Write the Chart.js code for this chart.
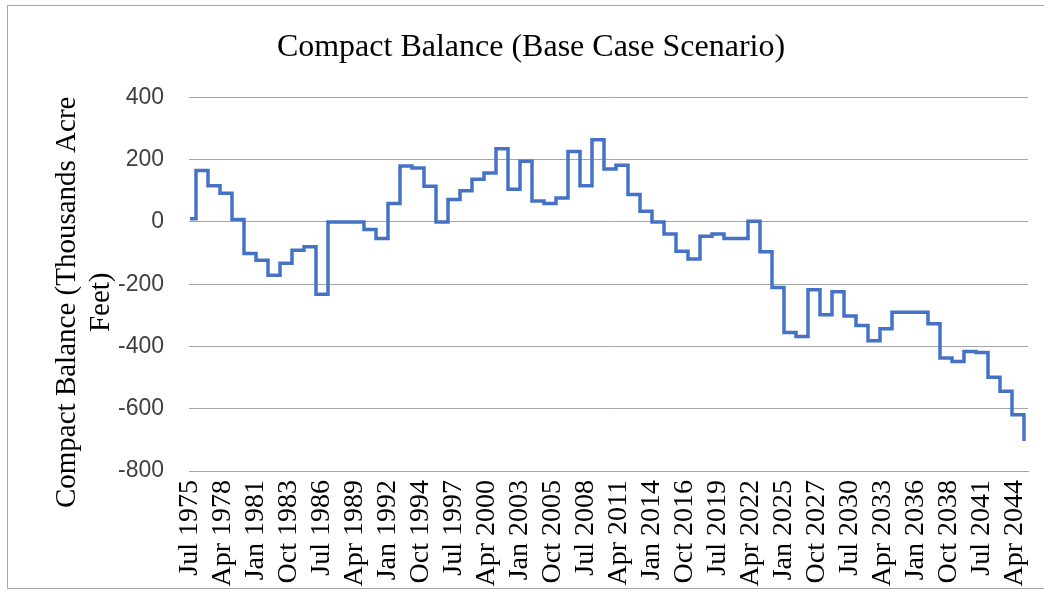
<!DOCTYPE html>
<html>
<head>
<meta charset="utf-8">
<script src="https://cdn.jsdelivr.net/npm/chart.js@4.4.1/dist/chart.umd.min.js"></script>
<style>
html, body { margin: 0; padding: 0; background: #fff; }
#wrap { width: 1044px; height: 591px; }
</style>
</head>
<body>
<div id="wrap"><canvas id="c" width="1044" height="591"></canvas></div>
<script>
// Calendar years (balance changes each January; series starts Jul 1975)
const years = [1975,1976,1977,1978,1979,1980,1981,1982,1983,1984,1985,1986,1987,1988,1989,
  1990,1991,1992,1993,1994,1995,1996,1997,1998,1999,2000,2001,2002,2003,2004,2005,2006,2007,
  2008,2009,2010,2011,2012,2013,2014,2015,2016,2017,2018,2019,2020,2021,2022,2023,2024,2025,
  2026,2027,2028,2029,2030,2031,2032,2033,2034,2035,2036,2037,2038,2039,2040,2041,2042,2043,
  2044,2045];

// Compact balance, thousands acre-feet
const balance = [10,165,116,92,8,-101,-123,-171,-133,-91,-80,-232,0,0,0,
  -24,-53,59,180,173,115,0,72,100,137,157,235,105,195,67,59,77,226,
  116,264,170,182,88,34,0,-39,-94,-119,-46,-39,-53,-53,2,-96,-211,-355,
  -368,-218,-298,-224,-302,-333,-382,-343,-290,-290,-290,-327,-437,-448,-416,-419,-499,-544,
  -619,-704];

const tickLabels = ['Jul 1975','Apr 1978','Jan 1981','Oct 1983','Jul 1986','Apr 1989','Jan 1992',
  'Oct 1994','Jul 1997','Apr 2000','Jan 2003','Oct 2005','Jul 2008','Apr 2011','Jan 2014',
  'Oct 2016','Jul 2019','Apr 2022','Jan 2025','Oct 2027','Jul 2030','Apr 2033','Jan 2036',
  'Oct 2038','Jul 2041','Apr 2044'];

const monthNames = ['Jan','Feb','Mar','Apr','May','Jun','Jul','Aug','Sep','Oct','Nov','Dec'];
const startYear = 1975, startMonth = 6; // Jul 1975

function monthIndex(year, month) { return (year - startYear) * 12 + month - startMonth; }

const points = years.map((y, i) => ({ x: Math.max(0, monthIndex(y, 0)), y: balance[i] }));
const tickPositions = tickLabels.map(l => {
  const parts = l.split(' ');
  return monthIndex(parseInt(parts[1], 10), monthNames.indexOf(parts[0]));
});

const framePlugin = {
  id: 'frame',
  beforeDraw(chart) {
    const ctx = chart.ctx;
    ctx.save();
    ctx.fillStyle = '#ffffff';
    ctx.fillRect(0, 0, chart.width, chart.height);
    ctx.strokeStyle = '#a6a6a6';
    ctx.lineWidth = 1;
    ctx.strokeRect(7.5, 5.5, 1100, 583);
    ctx.restore();
  }
};

new Chart(document.getElementById('c'), {
  type: 'line',
  data: {
    datasets: [{
      label: 'Compact Balance',
      data: points,
      borderColor: '#4472C4',
      borderWidth: 3.5,
      pointRadius: 0,
      pointHoverRadius: 0,
      stepped: true,
      fill: false,
      tension: 0
    }]
  },
  options: {
    responsive: false,
    animation: false,
    layout: { padding: { left: 34, right: 16, top: 0, bottom: 0 } },
    plugins: {
      legend: { display: false },
      tooltip: { enabled: false },
      title: {
        display: true,
        text: 'Compact Balance (Base Case Scenario)',
        color: '#000',
        font: { family: '"Liberation Serif", "Times New Roman", serif', size: 32, weight: 'normal', lineHeight: 1.2 },
        padding: { top: 28, bottom: 31 }
      }
    },
    scales: {
      x: {
        type: 'linear',
        min: -1,
        max: 838,
        grid: { display: false, drawTicks: false },
        border: { display: true, color: '#a6a6a6', width: 1 },
        afterBuildTicks: (s) => { s.ticks = tickPositions.map(v => ({ value: v })); },
        afterFit: (s) => { s.height = 120; s.paddingLeft = 0; s.paddingRight = 0; },
        ticks: {
          autoSkip: false,
          maxRotation: 90,
          minRotation: 90,
          padding: 9,
          color: '#000',
          font: { family: '"Liberation Serif", "Times New Roman", serif', size: 28 },
          callback: (v, i) => tickLabels[i]
        }
      },
      y: {
        min: -800,
        max: 400,
        grid: { color: '#a6a6a6', lineWidth: 1, drawTicks: false },
        border: { display: false },
        afterFit: (s) => { s.width = 155; s.paddingTop = 0; s.paddingBottom = 0; },
        ticks: {
          stepSize: 200,
          padding: 25,
          color: '#404040',
          font: { family: '"Liberation Sans", Arial, sans-serif', size: 23 }
        },
        title: {
          display: true,
          text: ['Compact Balance (Thousands Acre     ', 'Feet)     '],
          color: '#000',
          font: { family: '"Liberation Serif", "Times New Roman", serif', size: 29, lineHeight: 1.2 },
          padding: { top: 15.5, bottom: 0 }
        }
      }
    }
  },
  plugins: [framePlugin]
});
</script>
</body>
</html>
